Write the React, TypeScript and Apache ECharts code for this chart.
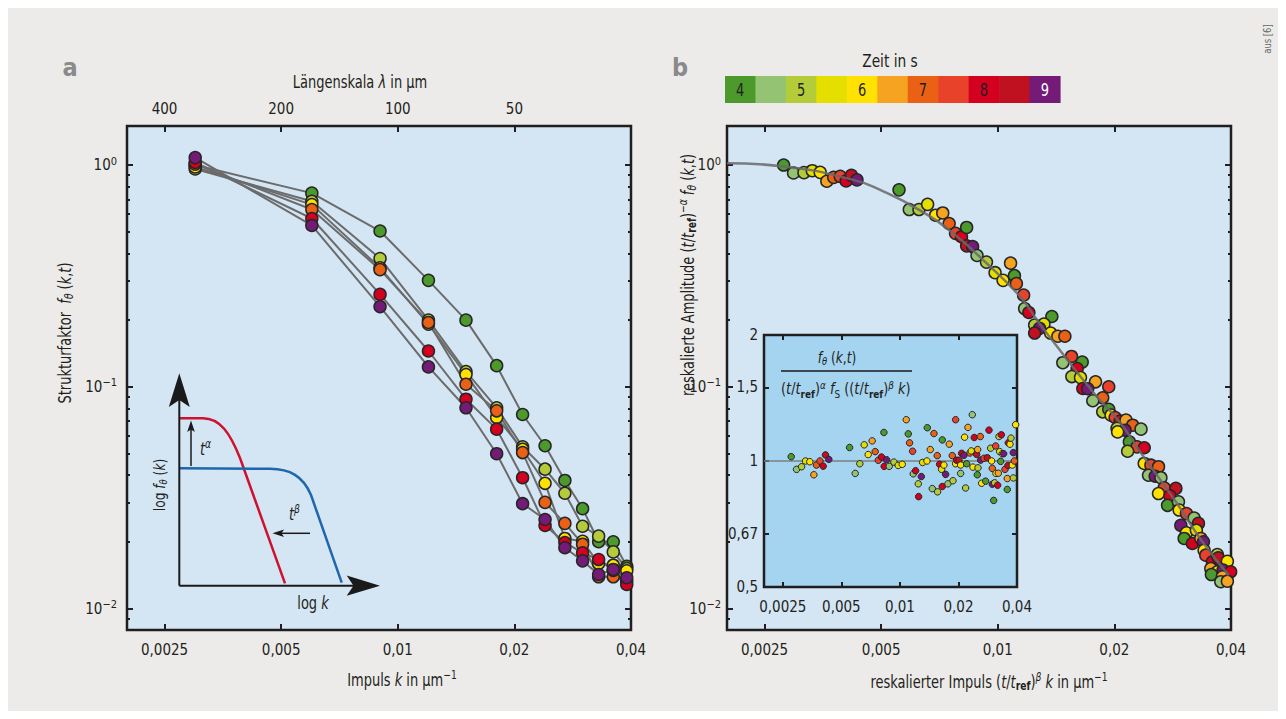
import React, { useEffect, useRef } from 'react';
import * as echarts from 'echarts';

const FONT = "'Liberation Sans Narrow','DejaVu Sans Condensed','Roboto Condensed',Roboto,Arial,sans-serif";
const INK = '#231f20';
const FIG_BG = '#ecebe9';
const PLOT_BG = '#d4e5f4';
const INSET_BG = '#a5d4f0';
const LINE_GREY = '#6b6b6b';
const NARROW = 0.85;

// time colour scale, 4 s ... 9 s in steps of 0.5 s
const TIME_COLORS = ['#4b9a2b', '#94c473', '#b4cc3a', '#e5df00', '#ffe200', '#f5a320', '#ea6115', '#e8432a', '#d5001f', '#bf111f', '#741b78'];
const TIME_LABELS = ['4', '', '5', '', '6', '', '7', '', '8', '', '9'];

// axes
const K_TICKS = [0.0025, 0.005, 0.01, 0.02, 0.04];
const K_TICK_LABELS = ['0,0025', '0,005', '0,01', '0,02', '0,04'];
const LAMBDA_TICKS = [400, 200, 100, 50];
const LAMBDA_TICK_LABELS = ['400', '200', '100', '50'];
const F_MAJOR = [1, 0.1, 0.01];
const F_MAJOR_EXP = ['0', '−1', '−2'];
const F_MINOR = [0.008, 0.009, 0.02, 0.03, 0.04, 0.05, 0.06, 0.07, 0.08, 0.09, 0.2, 0.3, 0.4, 0.5, 0.6, 0.7, 0.8, 0.9];
const R_TICKS = [0.5, 0.67, 1, 1.5, 2];
const R_TICK_LABELS = ['0,5', '0,67', '1', '1,5', '2'];
const K_RANGE = [0.002, 0.04];
const F_RANGE = [0.008, 1.5];
const R_RANGE = [0.5, 2];
const R_UNITY = 1;

// panel a: structure factor at 13 wave numbers, one row per time
const A_K = [0.003, 0.006, 0.009, 0.012, 0.015, 0.018, 0.021, 0.024, 0.027, 0.03, 0.033, 0.036, 0.039];
const A_F_4S = [1.0, 0.747, 0.504, 0.302, 0.1998, 0.1245, 0.075, 0.0542, 0.0378, 0.0282, 0.02, 0.02, 0.0155];
const A_F_5S = [0.96, 0.686, 0.379, 0.1998, 0.117, 0.0804, 0.0536, 0.0425, 0.0331, 0.0235, 0.0212, 0.018, 0.01515];
const A_F_6S = [0.98, 0.663, 0.344, 0.1917, 0.1135, 0.0727, 0.0522, 0.0367, 0.0207, 0.0201, 0.01596, 0.01568, 0.0148];
const A_F_7S = [1.01, 0.63, 0.3375, 0.195, 0.1027, 0.0779, 0.0505, 0.0301, 0.0242, 0.0195, 0.0139, 0.0139, 0.01328];
const A_F_8S = [1.027, 0.574, 0.261, 0.145, 0.0879, 0.0644, 0.0389, 0.0237, 0.01985, 0.01784, 0.01663, 0.01484, 0.01283];
const A_F_9S = [1.08, 0.534, 0.23, 0.1229, 0.0804, 0.0499, 0.0297, 0.0252, 0.0188, 0.0164, 0.01424, 0.015, 0.01376];
const A_ROWS: [number[], number][] = [[A_F_4S, 0], [A_F_5S, 2], [A_F_6S, 4], [A_F_7S, 6], [A_F_8S, 8], [A_F_9S, 10]];

// panel b: rescaled data (k, amplitude, time index)
const B_K = [0.0028, 0.00297, 0.00316, 0.00332, 0.00348, 0.00362, 0.00377, 0.00392, 0.00406, 0.00419,
  0.00433, 0.00556, 0.00591, 0.00626, 0.00659, 0.00691, 0.00721, 0.00749, 0.00778, 0.00806,
  0.00831, 0.00831, 0.00861, 0.00884, 0.00935, 0.00984, 0.01032, 0.01079, 0.01104, 0.01117,
  0.01166, 0.01173, 0.01203, 0.01379, 0.01245, 0.01316, 0.01282, 0.01245, 0.01369, 0.01429,
  0.0149, 0.0155, 0.01652, 0.01472, 0.01603, 0.01553, 0.01635, 0.01788, 0.01934, 0.01658,
  0.01707, 0.01866, 0.01759, 0.01866, 0.01934, 0.01962, 0.02009, 0.02069, 0.02143, 0.0223,
  0.02343, 0.02032, 0.02131, 0.02039, 0.02186, 0.02288, 0.02388, 0.02164, 0.02388, 0.02485,
  0.026, 0.0245, 0.02549, 0.02637, 0.02689, 0.02882, 0.026, 0.02782, 0.02743, 0.02927,
  0.02939, 0.03069, 0.03212, 0.03296, 0.02969, 0.03069, 0.03256, 0.03028, 0.0318, 0.03343,
  0.03395, 0.03409, 0.03443, 0.03581, 0.03688, 0.0371, 0.03915, 0.03547, 0.03688, 0.03816,
  0.03992, 0.0356, 0.038, 0.03764, 0.03915];
const B_F = [1.0, 0.921, 0.924, 0.943, 0.927, 0.845, 0.88, 0.889, 0.848, 0.899,
  0.857, 0.773, 0.63, 0.63, 0.665, 0.594, 0.608, 0.545, 0.492, 0.475,
  0.523, 0.432, 0.429, 0.391, 0.365, 0.327, 0.302, 0.361, 0.317, 0.292,
  0.259, 0.2253, 0.2163, 0.2075, 0.1897, 0.1917, 0.1834, 0.1747, 0.1747, 0.169,
  0.169, 0.137, 0.1293, 0.1284, 0.1207, 0.1112, 0.11, 0.1053, 0.1, 0.0982,
  0.098, 0.0892, 0.0865, 0.0771, 0.0792, 0.0745, 0.0727, 0.07, 0.0707, 0.0671,
  0.0644, 0.0649, 0.0637, 0.0626, 0.0565, 0.0536, 0.0531, 0.0512, 0.0451, 0.0443,
  0.0436, 0.0399, 0.0395, 0.0389, 0.035, 0.0348, 0.033, 0.0322, 0.0292, 0.0303,
  0.0278, 0.0268, 0.0256, 0.0242, 0.0237, 0.02195, 0.02255, 0.0207, 0.01964, 0.0207,
  0.02, 0.0183, 0.0174, 0.01624, 0.01752, 0.01693, 0.01634, 0.01515, 0.01464, 0.01489,
  0.01464, 0.01423, 0.0139, 0.0132, 0.01328];
const B_T = [0, 1, 2, 3, 4, 5, 6, 7, 8, 9,
  10, 0, 1, 2, 3, 4, 5, 6, 7, 8,
  0, 9, 10, 1, 2, 3, 4, 5, 0, 6,
  7, 1, 8, 0, 2, 3, 10, 9, 4, 5,
  6, 7, 0, 1, 8, 2, 3, 5, 7, 8,
  10, 6, 1, 2, 0, 4, 7, 9, 5, 6,
  1, 2, 10, 4, 0, 7, 8, 2, 4, 7,
  6, 1, 10, 1, 7, 9, 4, 8, 0, 1,
  4, 7, 1, 9, 10, 4, 3, 0, 8, 5,
  10, 4, 7, 8, 2, 9, 4, 5, 4, 10,
  8, 0, 5, 1, 5];

// master curve f_S
const M_K = [0.002, 0.0028, 0.00424, 0.00497, 0.0063, 0.00767, 0.00935, 0.0114, 0.01258, 0.01416, 0.01759, 0.0206, 0.02365, 0.02882, 0.03375, 0.0395];
const M_F = [1.02, 0.986, 0.857, 0.773, 0.625, 0.492, 0.361, 0.256, 0.2018, 0.1534, 0.095, 0.0695, 0.0491, 0.0303, 0.02, 0.0141];

// inset: ratio to master curve
const I_K = [0.00276, 0.00294, 0.00312, 0.00327, 0.00344, 0.00361, 0.00372, 0.00388, 0.00403, 0.00414,
  0.00431, 0.00551, 0.00589, 0.00622, 0.00655, 0.00687, 0.0072, 0.00746, 0.00774, 0.00804,
  0.0083, 0.00827, 0.00854, 0.00881, 0.00931, 0.0098, 0.01028, 0.01078, 0.01104, 0.01121,
  0.01162, 0.01171, 0.01204, 0.01243, 0.01248, 0.01288, 0.01308, 0.01377, 0.01383, 0.01433,
  0.01467, 0.01496, 0.01556, 0.01562, 0.016, 0.01638, 0.01651, 0.01651, 0.01684, 0.01718,
  0.01766, 0.01794, 0.01859, 0.01874, 0.01934, 0.01934, 0.01957, 0.02012, 0.02052, 0.02052,
  0.02076, 0.02135, 0.02177, 0.02203, 0.02238, 0.02151, 0.02292, 0.02328, 0.02356, 0.02374,
  0.02412, 0.0248, 0.025, 0.0252, 0.0251, 0.02591, 0.02632, 0.02601, 0.02705, 0.02759,
  0.02814, 0.02871, 0.02928, 0.02962, 0.02986, 0.02986, 0.03034, 0.0307, 0.03107, 0.03119,
  0.0318, 0.03206, 0.03231, 0.03322, 0.03296, 0.03257, 0.03361, 0.03415, 0.03469, 0.03566,
  0.03594, 0.03608, 0.03681, 0.03725, 0.03566, 0.03784, 0.03829, 0.03829, 0.03936, 0.03875];
const I_R = [1.024, 0.955, 0.969, 1.0, 0.996, 0.927, 0.978, 1.0, 0.972, 1.034,
  1.009, 1.077, 0.934, 0.985, 1.093, 1.036, 1.117, 1.053, 1.004, 1.022,
  0.971, 1.17, 1.007, 0.971, 0.994, 0.976, 0.982, 1.255, 1.161, 1.105,
  1.055, 0.932, 0.948, 0.882, 0.822, 0.918, 0.992, 1.0, 1.201, 1.065,
  0.859, 1.163, 1.03, 0.844, 0.982, 0.955, 1.123, 0.869, 0.978, 0.929,
  0.882, 1.097, 1.03, 0.897, 1.255, 0.985, 1.004, 1.004, 0.978, 0.934,
  1.043, 1.032, 0.862, 0.985, 1.203, 1.14, 1.045, 1.057, 1.29, 0.967,
  1.138, 1.037, 0.927, 0.963, 1.065, 1.144, 0.885, 1.005, 1.015, 0.895,
  1.018, 1.185, 1.073, 1.0, 0.96, 0.88, 0.805, 0.887, 1.086, 0.934,
  0.875, 0.935, 1.144, 1.155, 0.998, 1.053, 1.041, 1.041, 0.955, 0.908,
  0.976, 1.105, 1.097, 1.134, 0.855, 0.978, 0.911, 1.047, 1.221, 1.0];
const I_T = [0, 1, 2, 3, 4, 5, 6, 7, 8, 9,
  10, 0, 1, 2, 3, 4, 5, 6, 7, 8,
  8, 0, 10, 1, 2, 3, 4, 5, 0, 6,
  7, 1, 8, 2, 8, 10, 3, 4, 0, 5,
  1, 6, 6, 2, 8, 3, 0, 8, 4, 10,
  1, 5, 6, 2, 7, 4, 8, 9, 4, 1,
  8, 10, 2, 0, 5, 4, 6, 3, 1, 4,
  8, 9, 0, 2, 5, 6, 4, 10, 7, 0,
  9, 8, 2, 4, 6, 10, 0, 2, 7, 4,
  8, 5, 2, 8, 0, 3, 4, 10, 7, 5,
  9, 8, 4, 2, 0, 4, 2, 10, 4, 6];

// schematic sketch in panel a (illustration paths)
const RED_D = 'M171.3 410.3 L195 410.3 C212 410.3 222 425 232 450 L277 575.3';
const BLUE_D = 'M171.3 460.3 L262 460.8 C282 461 295 468 303 487 L333.7 574.7';
echarts.graphic.registerShape('sketchRed', echarts.graphic.extendPath(RED_D, {}));
echarts.graphic.registerShape('sketchBlue', echarts.graphic.extendPath(BLUE_D, {}));

const lg = (v: number) => Math.log10(v);

function labelFor(values: number[], labels: string[]) {
  return (v: number) => {
    let best = 0;
    let d = Infinity;
    for (let i = 0; i < values.length; i++) {
      const dd = Math.abs(lg(values[i]) - v);
      if (dd < d) { d = dd; best = i; }
    }
    return labels[best];
  };
}

const TICK_FS = 15;
const AX_RICH = { sup: { fontSize: 11, lineHeight: 11, verticalAlign: 'top', fontFamily: FONT, color: INK } };

function axis(gridIndex: number, position: string, range: number[], ticks: number[], len: number,
  label?: { values: number[]; texts: string[]; margin: number }) {
  return {
    type: 'value', gridIndex, position, min: lg(range[0]), max: lg(range[1]),
    axisLine: { show: false, onZero: false },
    splitLine: { show: false },
    axisTick: { show: true, inside: true, length: len, customValues: ticks.map(lg), lineStyle: { color: INK, width: 2 } },
    axisLabel: label
      ? { show: true, customValues: label.values.map(lg), formatter: labelFor(label.values, label.texts), margin: label.margin,
        fontSize: TICK_FS, fontFamily: FONT, color: INK, lineHeight: 19, rich: AX_RICH }
      : { show: false },
  };
}

function richG(size: number) {
  const s = Math.round(size * 0.7);
  const base = { fontFamily: FONT, fill: INK, color: INK };
  return {
    i: { ...base, fontSize: size, fontStyle: 'italic', lineHeight: size + 4 },
    sup: { ...base, fontSize: s, lineHeight: s, verticalAlign: 'top' },
    isup: { ...base, fontSize: s, lineHeight: s, verticalAlign: 'top', fontStyle: 'italic' },
    sub: { ...base, fontSize: s, lineHeight: s, verticalAlign: 'bottom' },
    isub: { ...base, fontSize: s, lineHeight: s, verticalAlign: 'bottom', fontStyle: 'italic' },
    bsub: { ...base, fontSize: s, lineHeight: s, verticalAlign: 'bottom', fontWeight: 'bold' },
  };
}

function T(x: number, y: number, text: string, size = 17, opt: any = {}) {
  return {
    type: 'text', x, y, z: 20, silent: true,
    rotation: opt.rotation || 0,
    scaleX: opt.scaleX ?? NARROW,
    style: {
      text, fontFamily: FONT, fontSize: size, fill: INK, align: opt.align || 'center', verticalAlign: 'middle',
      lineHeight: size + 4, rich: richG(size), ...(opt.style || {}),
    },
  };
}

function line(x1: number, y1: number, x2: number, y2: number, w = 2) {
  return { type: 'line', z: 20, silent: true, shape: { x1, y1, x2, y2 }, style: { stroke: '#1a1a1a', lineWidth: w } };
}
function poly(points: number[][]) {
  return { type: 'polygon', z: 20, silent: true, shape: { points }, style: { fill: '#1a1a1a' } };
}

function buildOption() {
  const series: any[] = [];
  // panel a: connecting lines first, then markers
  A_ROWS.forEach(([vals]) => series.push({
    type: 'line', xAxisIndex: 0, yAxisIndex: 0, silent: true, symbol: 'none', z: 2,
    data: A_K.map((k, i) => [lg(k), lg(vals[i])]),
    lineStyle: { color: LINE_GREY, width: 2 },
  }));
  A_ROWS.forEach(([vals, ci]) => series.push({
    type: 'scatter', xAxisIndex: 0, yAxisIndex: 0, silent: true, z: 3, symbolSize: 12, clip: false,
    data: A_K.map((k, i) => [lg(k), lg(vals[i])]),
    itemStyle: { color: TIME_COLORS[ci], borderColor: '#262626', borderWidth: 1.5, opacity: 1 },
  }));
  // panel b
  series.push({
    type: 'scatter', xAxisIndex: 2, yAxisIndex: 4, silent: true, z: 3, symbolSize: 12, clip: false,
    data: B_K.map((k, i) => ({ value: [lg(k), lg(B_F[i])], itemStyle: { color: TIME_COLORS[B_T[i]] } })),
    itemStyle: { borderColor: '#262626', borderWidth: 1.5, opacity: 1 },
  });
  series.push({
    type: 'line', xAxisIndex: 2, yAxisIndex: 4, silent: true, symbol: 'none', z: 4, smooth: 0.5,
    data: M_K.map((k, i) => [lg(k), lg(M_F[i])]),
    lineStyle: { color: 'rgba(105,105,105,0.85)', width: 2.5 },
  });
  // inset
  series.push({
    type: 'line', xAxisIndex: 4, yAxisIndex: 8, silent: true, symbol: 'none', z: 2,
    data: [[lg(K_RANGE[0]), lg(R_UNITY)], [lg(K_RANGE[1]), lg(R_UNITY)]],
    lineStyle: { color: '#7f7f7f', width: 1.5 },
  });
  series.push({
    type: 'scatter', xAxisIndex: 4, yAxisIndex: 8, silent: true, z: 3, symbolSize: 6.5, clip: false,
    data: I_K.map((k, i) => ({ value: [lg(k), lg(I_R[i])], itemStyle: { color: TIME_COLORS[I_T[i]] } })),
    itemStyle: { borderColor: '#262626', borderWidth: 1, opacity: 1 },
  });

  const fTexts = F_MAJOR_EXP.map((e) => `10{sup|${e}}`);
  const kLabels = { values: K_TICKS, texts: K_TICK_LABELS, margin: 10 };
  const lambdaK = LAMBDA_TICKS.map((l) => 1 / l);

  const xAxis = [
    axis(0, 'bottom', K_RANGE, K_TICKS, 6, kLabels),
    axis(0, 'top', K_RANGE, lambdaK, 6, { values: lambdaK, texts: LAMBDA_TICK_LABELS, margin: 8 }),
    axis(1, 'bottom', K_RANGE, K_TICKS, 6, kLabels),
    axis(1, 'top', K_RANGE, K_TICKS, 6),
    axis(2, 'bottom', K_RANGE, K_TICKS, 5, { values: K_TICKS, texts: K_TICK_LABELS, margin: 10 }),
    axis(2, 'top', K_RANGE, K_TICKS, 5),
  ];
  const yAxis = [
    axis(0, 'left', F_RANGE, F_MAJOR, 6, { values: F_MAJOR, texts: fTexts, margin: 10 }),
    axis(0, 'left', F_RANGE, F_MINOR, 3),
    axis(0, 'right', F_RANGE, F_MAJOR, 6),
    axis(0, 'right', F_RANGE, F_MINOR, 3),
    axis(1, 'left', F_RANGE, F_MAJOR, 6, { values: F_MAJOR, texts: fTexts, margin: 6 }),
    axis(1, 'left', F_RANGE, F_MINOR, 3),
    axis(1, 'right', F_RANGE, F_MAJOR, 6),
    axis(1, 'right', F_RANGE, F_MINOR, 3),
    axis(2, 'left', R_RANGE, R_TICKS, 5, { values: R_TICKS, texts: R_TICK_LABELS, margin: 6 }),
    axis(2, 'right', R_RANGE, R_TICKS, 5),
  ];

  const gridStyle = { show: true, borderColor: '#1e1e1e', borderWidth: 2.5 };
  const grid = [
    { ...gridStyle, left: 119, top: 118, width: 504, height: 504, backgroundColor: PLOT_BG },
    { ...gridStyle, left: 719, top: 118, width: 504, height: 504, backgroundColor: PLOT_BG },
    { ...gridStyle, left: 756, top: 327, width: 253, height: 252, backgroundColor: INSET_BG },
  ];

  const graphic: any[] = [];
  // panel letters & titles
  graphic.push(T(62, 59, 'a', 25, { scaleX: 1, style: { fontWeight: 'bold', fill: '#8a8a8a' } }));
  graphic.push(T(672, 59, 'b', 25, { scaleX: 1, style: { fontWeight: 'bold', fill: '#8a8a8a' } }));
  graphic.push(T(352, 74, 'Längenskala {i|λ} in µm', 17));
  graphic.push(T(394, 672, 'Impuls {i|k} in µm{sup|−1}', 17));
  graphic.push(T(57, 325, 'Strukturfaktor  {i|f}{isub|θ} ({i|k},{i|t})', 17, { rotation: Math.PI / 2 }));
  graphic.push(T(981, 674, 'reskalierter Impuls ({i|t}/{i|t}{bsub|ref}){isup|β} {i|k} in µm{sup|−1}', 17));
  graphic.push(T(680, 267, 'reskalierte Amplitude ({i|t}/{i|t}{bsub|ref}){isup|−α} {i|f}{isub|θ} ({i|k},{i|t})', 17, { rotation: Math.PI / 2 }));
  graphic.push(T(1259, 31, 'aus [6]', 11, { rotation: Math.PI / 2, style: { fill: '#666' } }));
  // colour bar
  graphic.push(T(882, 53, 'Zeit in s', 18));
  const cw = 335 / TIME_COLORS.length;
  TIME_COLORS.forEach((c, i) => {
    graphic.push({ type: 'rect', z: 15, silent: true, shape: { x: 717 + i * cw, y: 68, width: cw + 0.6, height: 27 }, style: { fill: c } });
    if (TIME_LABELS[i]) graphic.push(T(717 + (i + 0.5) * cw, 82, TIME_LABELS[i], 17, { style: { fill: i === 10 ? '#ffffff' : '#231f20' } }));
  });
  // inset formula
  graphic.push(T(829, 349, '{i|f}{isub|θ} ({i|k},{i|t})', 16));
  graphic.push({ type: 'line', z: 20, silent: true, shape: { x1: 773, y1: 363, x2: 904, y2: 363 }, style: { stroke: '#1a1a1a', lineWidth: 1.5 } });
  graphic.push(T(773, 381, '({i|t}/{i|t}{bsub|ref}){isup|α} {i|f}{sub|S} (({i|t}/{i|t}{bsub|ref}){isup|β} {i|k})', 16, { align: 'left', scaleX: 0.9 }));
  // sketch
  graphic.push({ type: 'sketchRed', z: 20, silent: true, style: { fill: 'none', stroke: '#cf1130', lineWidth: 2.5 } });
  graphic.push({ type: 'sketchBlue', z: 20, silent: true, style: { fill: 'none', stroke: '#1f67ad', lineWidth: 2.5 } });
  graphic.push(line(171.3, 392, 171.3, 577.7));
  graphic.push(line(171.3, 577.7, 346, 577.7));
  graphic.push(poly([[171.3, 365.3], [181.8, 399], [171.3, 392], [160.8, 399]]));
  graphic.push(poly([[372, 577.7], [338.7, 587.8], [345.5, 577.7], [338.7, 567.6]]));
  graphic.push(line(183, 458, 183, 420, 1.5));
  graphic.push(poly([[183, 412.5], [186.8, 424], [183, 421.5], [179.2, 424]]));
  graphic.push(line(302, 525.3, 272, 525.3, 1.5));
  graphic.push(poly([[264.5, 525.3], [276, 521.5], [273.5, 525.3], [276, 529.1]]));
  graphic.push(T(192, 441, '{i|t}{isup|α}', 17, { align: 'left' }));
  graphic.push(T(281, 506, '{i|t}{isup|β}', 17, { align: 'left' }));
  graphic.push(T(305, 595, 'log {i|k}', 17));
  graphic.push(T(151, 477, 'log {i|f}{isub|θ} ({i|k})', 16, { rotation: Math.PI / 2 }));

  return {
    animation: false,
    backgroundColor: FIG_BG,
    textStyle: { fontFamily: FONT },
    grid, xAxis, yAxis, series, graphic,
  };
}

export default function App() {
  const ref = useRef<HTMLDivElement>(null);
  useEffect(() => {
    const chart = echarts.init(ref.current!, null, { renderer: 'svg' });
    chart.setOption(buildOption() as any);
    return () => chart.dispose();
  }, []);
  return <div ref={ref} style={{ width: 1270, height: 703 }} />;
}
